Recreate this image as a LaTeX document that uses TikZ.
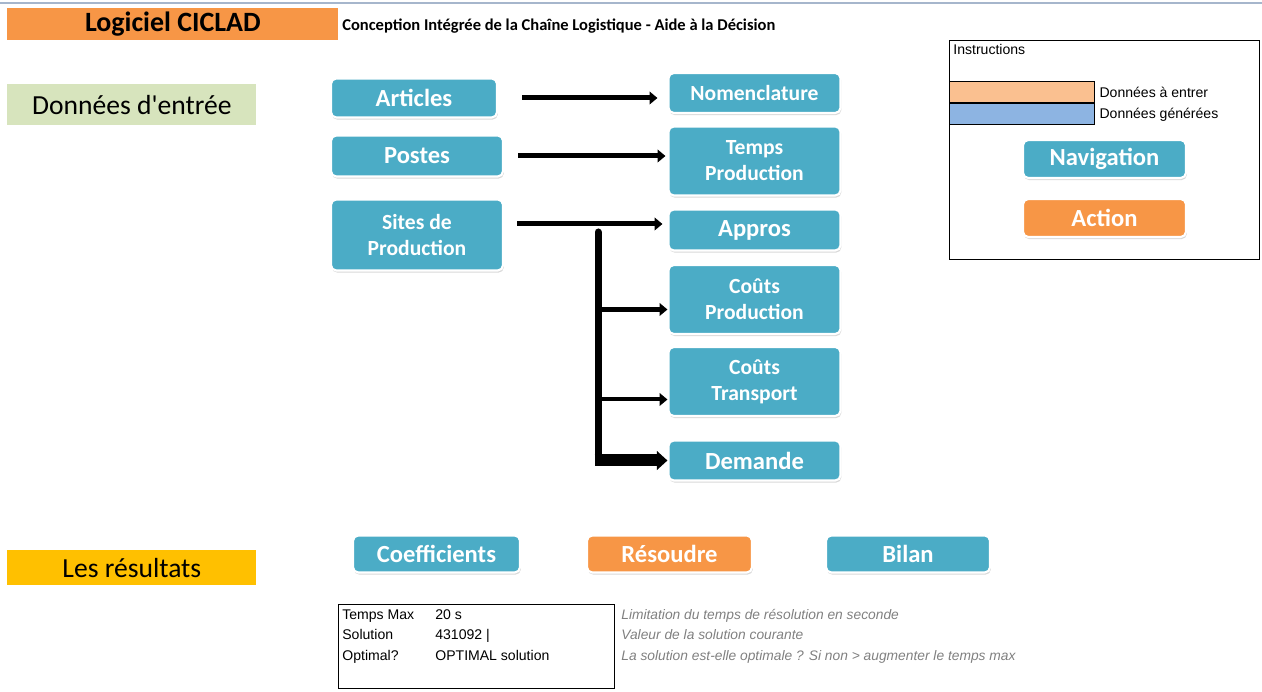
\documentclass[tikz,border=0pt]{standalone}
\usepackage{fontspec}
\setmainfont{Carlito}
\newfontfamily\sheetfont{Liberation Sans}
\usetikzlibrary{positioning}
\usetikzlibrary{arrows.meta}
\usetikzlibrary{shadows}

\definecolor{ButtonBlue}{HTML}{4BACC6}
\definecolor{ButtonOrange}{HTML}{F79646}
\definecolor{EntryGreen}{HTML}{D7E4BD}
\definecolor{ResultGold}{HTML}{FFC000}
\definecolor{InputOrange}{HTML}{FAC090}
\definecolor{OutputBlue}{HTML}{8DB4E2}
\definecolor{SheetLine}{HTML}{A6B6CC}
\definecolor{NoteGray}{HTML}{808080}

\begin{document}
\begin{tikzpicture}[x=0.02cm, y=-0.02cm]

\def\Px{0.02cm}
\def\ColumnWidth{172*\Px}
\def\RowHeight{40*\Px}
\def\TallHeight{69*\Px}

% Styles
\tikzstyle{button} =
	[rounded corners=3pt, draw=white, line width=1.2pt, fill=ButtonBlue,
	 text=white, align=center, inner sep=0pt,
	 font=\bfseries\fontsize{14}{17}\selectfont,
	 drop shadow={shadow xshift=0.5pt, shadow yshift=-1.2pt, opacity=0.3}]

\tikzstyle{two lines} =
	[font=\bfseries\fontsize{12.3}{14.8}\selectfont]

\tikzstyle{action} =
	[fill=ButtonOrange]

\tikzstyle{banner} =
	[anchor=north west, inner sep=0pt, font=\fontsize{15.7}{18}\selectfont]

\tikzstyle{cell} =
	[anchor=base west, inner sep=0pt, font=\sheetfont\fontsize{8}{9.6}\selectfont]

\tikzstyle{note} =
	[cell, text=NoteGray, font=\sheetfont\itshape\fontsize{7.85}{9.6}\selectfont]

\tikzstyle{frame} =
	[anchor=north west, draw, line width=1.2*\Px, inner sep=0pt]

\tikzstyle{flow} =
	[line width=5*\Px, -{Triangle[length=4.5pt, width=7.2pt]}]

\useasboundingbox (0,0) rectangle (1262,692);
\draw[SheetLine, line width=1.5*\Px] (0,3) -- (1262,3);

% Headings

\node (Title) at (7,8)
	[banner, fill=ButtonOrange, minimum width=331*\Px, minimum height=32*\Px,
	 font=\bfseries\fontsize{15.9}{19}\selectfont]
	{Logiciel CICLAD};
\node (Subtitle) at (342,31)
	[anchor=base west, inner sep=0pt, font=\bfseries\fontsize{9.4}{11}\selectfont]
	{Conception Intégrée de la Chaîne Logistique - Aide à la Décision};

\node (Entry) at (7,84)
	[banner, fill=EntryGreen, minimum width=249*\Px, minimum height=41*\Px]
	{Données d\textquotesingle entrée};
\node (Results) at (7,550)
	[banner, fill=ResultGold, minimum width=249*\Px, minimum height=35*\Px]
	{Les résultats};

% Input buttons

\node (Articles) at (414,98) [button, minimum width=166*\Px, minimum height=39*\Px] {Articles};
\node (Postes) at (417,156) [button, minimum width=\ColumnWidth, minimum height=41*\Px] {Postes};
\node (Sites) at (417,235) [button, two lines, minimum width=\ColumnWidth, minimum height=71*\Px]
	{Sites de\\Production};

\node (Nomenclature) at (754.5,93) [button, two lines, minimum width=\ColumnWidth, minimum height=\RowHeight]
	{Nomenclature};
\node (TempsProduction) at (754.5,161) [button, two lines, minimum width=\ColumnWidth, minimum height=\TallHeight]
	{Temps\\Production};
\node (Appros) at (754.5,230) [button, minimum width=\ColumnWidth, minimum height=41*\Px] {Appros};
\node (CoutsProduction) at (754.5,299.5) [button, two lines, minimum width=\ColumnWidth, minimum height=\TallHeight]
	{Coûts\\Production};
\node (CoutsTransport) at (754.5,381.5) [button, two lines, minimum width=\ColumnWidth, minimum height=\TallHeight]
	{Coûts\\Transport};
\node (Demande) at (754.5,460.5) [button, minimum width=\ColumnWidth, minimum height=\RowHeight] {Demande};

% Result buttons

\node (Coefficients) at (436.5,554) [button, minimum width=167*\Px, minimum height=37*\Px] {Coefficients};
\node (Resoudre) at (669.5,554) [button, action, minimum width=165*\Px, minimum height=37*\Px] {Résoudre};
\node (Bilan) at (908,554) [button, minimum width=164*\Px, minimum height=37*\Px] {Bilan};

% Instructions

\node (Instructions) at (949,40) [frame, minimum width=310*\Px, minimum height=219*\Px] {};
\node (InstructionsLabel) at (953,55) [cell] {Instructions};
\node (InputKey) at (949,81) [frame, fill=InputOrange, minimum width=145*\Px, minimum height=21*\Px] {};
\node (OutputKey) [frame, fill=OutputBlue, anchor=north, minimum width=145*\Px, minimum height=21*\Px,
	below=0pt of InputKey] {};
\node (InputText) [cell, right=4*\Px of InputKey] {Données à entrer};
\node (OutputText) [cell, right=4*\Px of OutputKey] {Données générées};

\node (Navigation) at (1104.5,159) [button, minimum width=163*\Px, minimum height=38*\Px] {Navigation};
\node (Action) at (1104.5,218) [button, action, minimum width=163*\Px, minimum height=38*\Px] {Action};

% Solver

\node (Solver) at (338,604) [frame, minimum width=276*\Px, minimum height=84*\Px] {};

\node (TimeName) at (342,620) [cell] {Temps Max};
\node (TimeValue) at (435,620) [cell] {20 s};
\node (TimeNote) at (621,620) [note] {Limitation du temps de résolution en seconde};

\node (ValueName) at (342,640) [cell] {Solution};
\node (ValueValue) at (435,640) [cell] {431092 |};
\node (ValueNote) at (621,640) [note] {Valeur de la solution courante};

\node (OptimalName) at (342,661) [cell] {Optimal?};
\node (OptimalValue) at (435,661) [cell] {OPTIMAL solution};
\node (OptimalNote) at (621,661) [note] {La solution est-elle optimale ? Si non > augmenter le temps max};

% Edges

\draw[flow, shorten <=24*\Px, shorten >=10*\Px]
	(Articles.east) -- (Articles.east -| Nomenclature.west);
\draw[flow, shorten <=14*\Px, shorten >=2*\Px]
	(Postes.east) -- (Postes.east -| TempsProduction.west);
\draw[flow, shorten <=13*\Px, shorten >=5*\Px]
	([yshift=11*\Px]Sites.east) -- ([yshift=11*\Px]Sites.east -| Appros.west);

\coordinate (Split) at (598,232);
\coordinate (ProductionIn) at ([yshift=-10*\Px]CoutsProduction.west);
\coordinate (TransportIn) at ([yshift=-18*\Px]CoutsTransport.west);
\coordinate (DemandeIn) at (Demande.west);

\draw[line width=7*\Px, line cap=round] (Split) -- (Split |- DemandeIn);
\draw[flow] (Split |- ProductionIn) -- (ProductionIn);
\draw[flow, line width=4*\Px] (Split |- TransportIn) -- (TransportIn);
\draw[flow, line width=12*\Px, shorten <=-3.5*\Px, -{Triangle[length=6pt, width=10.5pt]}]
	(Split |- DemandeIn) -- (DemandeIn);

\end{tikzpicture}
\end{document}
